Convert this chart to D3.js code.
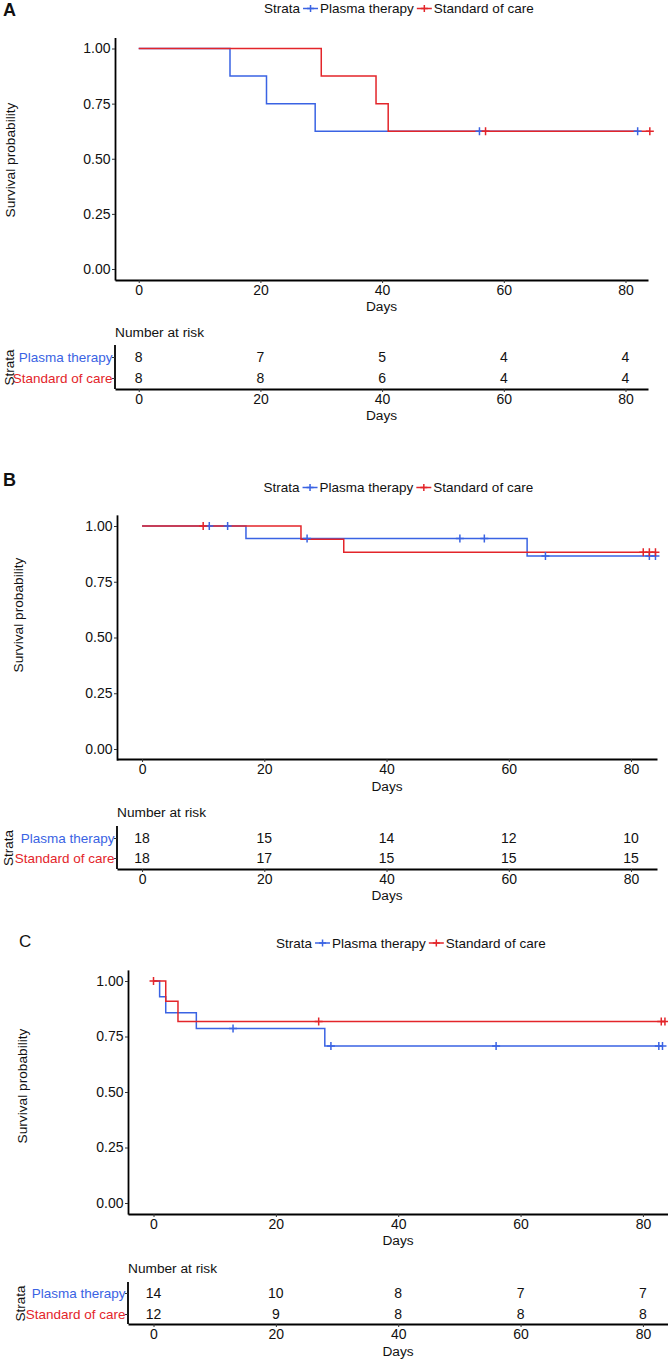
<!DOCTYPE html>
<html><head><meta charset="utf-8">
<script src="https://cdn.jsdelivr.net/npm/d3@7"></script>
<style>
body{margin:0;background:#fff;}
svg{display:block;}
text{font-family:"Liberation Sans", Arial, Helvetica, sans-serif;fill:#111;}
</style></head><body>
<svg id="chart" width="668" height="1359"></svg>
<script>
// ---------- data ----------
const strata = ["Plasma therapy", "Standard of care"];
const legendTitle = "Strata";
const xTicks = [0, 20, 40, 60, 80];
const xTickLabels = ["0", "20", "40", "60", "80"];
const yTicks = [0, 0.25, 0.5, 0.75, 1];
const yTickLabels = ["0.00", "0.25", "0.50", "0.75", "1.00"];
const panelLabels = ["A", "B", "C"];
const xTitle = "Days";
const yTitle = "Survival probability";
const riskTitle = "Number at risk";

// Panel A
const aPlasmaTime = [0, 15, 21, 29, 82];
const aPlasmaSurv = [1, 0.875, 0.75, 0.625, 0.625];
const aPlasmaCensor = [56, 82];
const aCareTime = [0, 30, 39, 41, 84];
const aCareSurv = [1, 0.875, 0.75, 0.625, 0.625];
const aCareCensor = [57, 84];
const aRiskPlasma = [8, 7, 5, 4, 4];
const aRiskCare = [8, 8, 6, 4, 4];

// Panel B
const bPlasmaTime = [0, 17, 63, 84];
const bPlasmaSurv = [1, 0.944, 0.866, 0.866];
const bPlasmaCensor = [11, 14, 27, 52, 56, 66, 83, 84];
const bCareTime = [0, 26, 33, 84];
const bCareSurv = [1, 0.941, 0.882, 0.882];
const bCareCensor = [10, 82, 83, 84];
const bRiskPlasma = [18, 15, 14, 12, 10];
const bRiskCare = [18, 17, 15, 15, 15];

// Panel C
const cPlasmaTime = [0, 1, 2, 7, 28, 83.2];
const cPlasmaSurv = [1, 0.929, 0.857, 0.786, 0.707, 0.707];
const cPlasmaCensor = [13, 29, 56, 82.6, 83.2];
const cCareTime = [0, 2, 4, 83.6];
const cCareSurv = [1, 0.909, 0.818, 0.818];
const cCareCensor = [0, 27, 83, 83.6];
const cRiskPlasma = [14, 10, 8, 7, 7];
const cRiskCare = [12, 9, 8, 8, 8];

// ---------- styles / layout ----------
const colors = ["#3A63E3", "#E3252A"];
const layouts = [
  {label:{x:3, y:15.5, bold:true}, legend:{x:264, y:8.5}, ytitle:{x:10.5, y:160},
   xRange:[115, 648], xDomain:[-3.9, 83.7], yZero:269, yOne:48.5,
   xTickY:280, daysY:306, riskTitleY:332, rowY:[357, 378], riskAxisY:389, riskTop:345,
   riskDaysY:415, strataX:9.5},
  {label:{x:3, y:485.5, bold:true}, legend:{x:263.5, y:487.5}, ytitle:{x:18.5, y:615},
   xRange:[117, 657], xDomain:[-4.1, 84.25], yZero:749, yOne:526,
   xTickY:759, daysY:786, riskTitleY:812, rowY:[838, 858], riskAxisY:869, riskTop:826,
   riskDaysY:895, strataX:8},
  {label:{x:19, y:947, bold:false}, legend:{x:276, y:943}, ytitle:{x:22, y:1086},
   xRange:[128, 668], xDomain:[-4.17, 84.1], yZero:1203, yOne:981,
   xTickY:1214, daysY:1240, riskTitleY:1268, rowY:[1293, 1314], riskAxisY:1324, riskTop:1282,
   riskDaysY:1351, strataX:20}
];

const panels = [
  {times:[aPlasmaTime, aCareTime], surv:[aPlasmaSurv, aCareSurv], censor:[aPlasmaCensor, aCareCensor], risk:[aRiskPlasma, aRiskCare]},
  {times:[bPlasmaTime, bCareTime], surv:[bPlasmaSurv, bCareSurv], censor:[bPlasmaCensor, bCareCensor], risk:[bRiskPlasma, bRiskCare]},
  {times:[cPlasmaTime, cCareTime], surv:[cPlasmaSurv, cCareSurv], censor:[cPlasmaCensor, cCareCensor], risk:[cRiskPlasma, cRiskCare]}
];

const svg = d3.select("#chart");
const FS = 14;

function survAt(times, surv, t) {
  let v = surv[0];
  for (let i = 0; i < times.length; i++) if (times[i] <= t) v = surv[i];
  return v;
}

function styleAxis(g) {
  g.select(".domain").attr("stroke", "#000").attr("stroke-width", 1.8);
  g.selectAll(".tick line").attr("stroke", "#333").attr("stroke-width", 1);
  g.selectAll(".tick text").attr("font-size", FS).attr("fill", "#111")
    .attr("font-family", '"Liberation Sans", Arial, sans-serif');
}

const plusPath = s => `M${-s},0H${s}M0,${-s}V${s}`;

panels.forEach((p, pi) => {
  const L = layouts[pi];
  const g = svg.append("g");
  const x = d3.scaleLinear().domain(L.xDomain).range(L.xRange);
  const unit = L.yZero - L.yOne;
  const y = d3.scaleLinear().domain([-0.05, 1.05]).range([L.yZero + 0.05 * unit, L.yOne - 0.05 * unit]);

  // panel label
  g.append("text").attr("x", L.label.x).attr("y", L.label.y)
    .attr("font-size", L.label.bold ? 18 : 17).attr("font-weight", L.label.bold ? "bold" : "normal")
    .text(panelLabels[pi]);

  // legend
  const lg = g.append("g").attr("transform", `translate(${L.legend.x},${L.legend.y})`);
  let cx = 0;
  const t0 = lg.append("text").attr("x", cx).attr("dy", "0.35em").attr("font-size", 13.5).text(legendTitle);
  cx += t0.node().getComputedTextLength() + 3;
  strata.forEach((s, si) => {
    lg.append("line").attr("x1", cx).attr("x2", cx + 15).attr("y1", 0).attr("y2", 0)
      .attr("stroke", colors[si]).attr("stroke-width", 1.5);
    lg.append("path").attr("d", plusPath(3.5)).attr("transform", `translate(${cx + 7.5},0)`)
      .attr("stroke", colors[si]).attr("stroke-width", 1.5).attr("fill", "none");
    cx += 17;
    const tt = lg.append("text").attr("x", cx).attr("dy", "0.35em").attr("font-size", 13.5).text(s);
    cx += tt.node().getComputedTextLength() + 3;
  });

  // axes
  const yAxis = d3.axisLeft(y).tickValues(yTicks).tickFormat((d, i) => yTickLabels[i])
    .tickSizeInner(3).tickSizeOuter(0).tickPadding(1.5);
  g.append("g").attr("transform", `translate(${L.xRange[0]},0)`).call(yAxis).call(styleAxis);
  const xAxis = d3.axisBottom(x).tickValues(xTicks).tickFormat((d, i) => xTickLabels[i])
    .tickSizeInner(3).tickSizeOuter(0).tickPadding(2.5);
  g.append("g").attr("transform", `translate(0,${L.xTickY})`).call(xAxis).call(styleAxis);

  g.append("text").attr("x", (L.xRange[0] + L.xRange[1]) / 2).attr("y", L.daysY).attr("dy", "0.35em")
    .attr("text-anchor", "middle").attr("font-size", 13.7).text(xTitle);
  g.append("text").attr("transform", `translate(${L.ytitle.x},${L.ytitle.y}) rotate(-90)`)
    .attr("dy", "0.35em").attr("text-anchor", "middle").attr("font-size", 13.7).text(yTitle);

  // curves
  const line = d3.line().x(d => x(d[0])).y(d => y(d[1])).curve(d3.curveStepAfter);
  p.times.forEach((ts, si) => {
    const pts = ts.map((t, i) => [t, p.surv[si][i]]);
    g.append("path").attr("d", line(pts)).attr("fill", "none")
      .attr("stroke", colors[si]).attr("stroke-width", 1.5);
  });
  p.censor.forEach((cs, si) => {
    cs.forEach(t => {
      const v = survAt(p.times[si], p.surv[si], t);
      g.append("path").attr("d", plusPath(4)).attr("transform", `translate(${x(t)},${y(v)})`)
        .attr("stroke", colors[si]).attr("stroke-width", 1.5).attr("fill", "none");
    });
  });

  // risk table
  g.append("text").attr("x", L.xRange[0]).attr("y", L.riskTitleY).attr("dy", "0.35em")
    .attr("font-size", 13.7).text(riskTitle);
  const rowScale = d3.scaleOrdinal().domain(strata).range(L.rowY);
  const rAxis = d3.axisLeft(rowScale).tickSizeInner(3).tickSizeOuter(0).tickPadding(1.5).tickFormat(() => "");
  const rg = g.append("g").attr("transform", `translate(${L.xRange[0]},0)`).call(rAxis).call(styleAxis);
  rg.select(".domain").attr("d", `M0,${L.riskTop}V${L.riskAxisY}`);
  strata.forEach((s, si) => {
    g.append("text").attr("x", L.xRange[0] - 2.5).attr("y", rowScale(s)).attr("dy", "0.35em")
      .attr("text-anchor", "end").attr("font-size", 13.5).style("fill", colors[si]).text(s);
    p.risk[si].forEach((n, i) => {
      g.append("text").attr("x", x(xTicks[i])).attr("y", rowScale(s)).attr("dy", "0.35em")
        .attr("text-anchor", "middle").attr("font-size", FS).text(n);
    });
  });
  g.append("text").attr("transform", `translate(${L.strataX},${(L.rowY[0] + L.rowY[1]) / 2}) rotate(-90)`)
    .attr("dy", "0.35em").attr("text-anchor", "middle").attr("font-size", 13.5).text(legendTitle);
  g.append("g").attr("transform", `translate(0,${L.riskAxisY})`).call(xAxis).call(styleAxis);
  g.append("text").attr("x", (L.xRange[0] + L.xRange[1]) / 2).attr("y", L.riskDaysY).attr("dy", "0.35em")
    .attr("text-anchor", "middle").attr("font-size", 13.7).text(xTitle);
});
</script>
</body></html>
